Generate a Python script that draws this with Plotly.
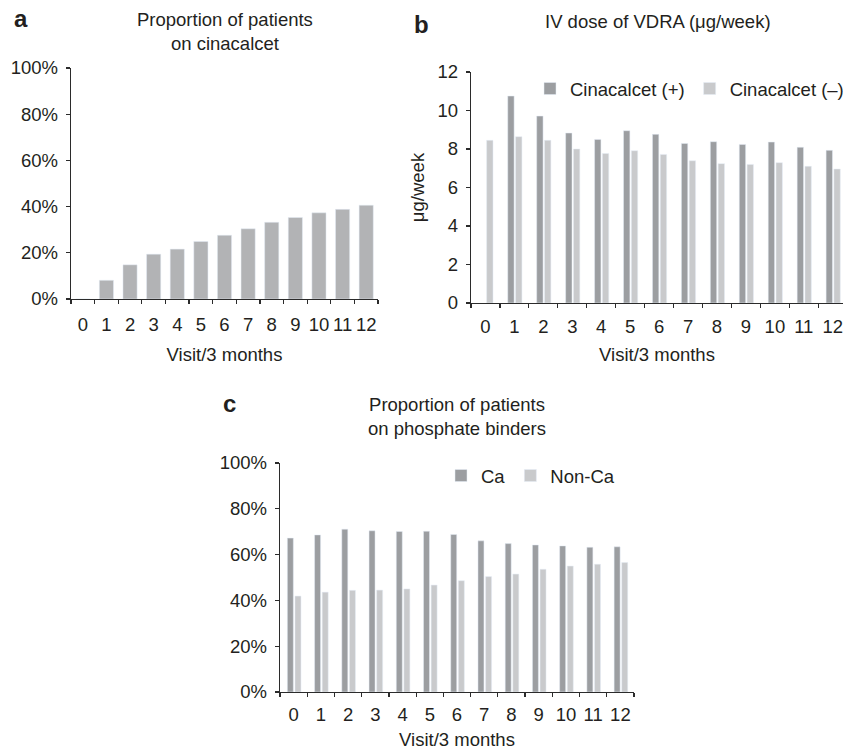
import plotly.graph_objects as go

visits = [str(i) for i in range(13)]

# Panel a: proportion of patients on cinacalcet (%)
cinacalcet_pct = [0, 8.1, 14.8, 19.4, 21.6, 24.9, 27.6, 30.4, 33.2, 35.3, 37.3, 38.8, 40.6]

# Panel b: IV dose of VDRA (ug/week)
vdra_cin_pos = [None, 10.75, 9.71, 8.83, 8.50, 8.95, 8.76, 8.29, 8.38, 8.24, 8.36, 8.09, 7.93]
vdra_cin_neg = [8.45, 8.64, 8.45, 8.00, 7.77, 7.91, 7.72, 7.39, 7.24, 7.20, 7.29, 7.10, 6.96]

# Panel c: proportion on phosphate binders (%)
binder_ca = [67.2, 68.6, 71.1, 70.4, 70.1, 70.2, 68.8, 66.0, 64.8, 64.2, 63.8, 63.2, 63.4]
binder_nonca = [41.9, 43.6, 44.4, 44.5, 45.0, 46.7, 48.6, 50.4, 51.5, 53.6, 55.0, 55.8, 56.5]

W, H = 843, 750
FONT = "Liberation Sans, Arial, Helvetica, sans-serif"
TXT = "#231f20"
AX = "#2b2b2b"
C_A = "#b2b3b5"
C_DARK = "#9c9ea1"
C_LIGHT = "#c9cacc"
FS = 18.5

def px_x(p):
    return p / W

def px_y(p):
    return 1 - p / H

fig = go.Figure()

fig.add_trace(go.Bar(x=visits, y=cinacalcet_pct, marker_color=C_A, width=0.6,
                     xaxis="x", yaxis="y", showlegend=False))

fig.add_trace(go.Bar(x=visits, y=vdra_cin_pos, marker_color=C_DARK, width=0.22, offset=-0.23,
                     name="Cinacalcet (+)", xaxis="x2", yaxis="y2", legend="legend"))
fig.add_trace(go.Bar(x=visits, y=vdra_cin_neg, marker_color=C_LIGHT, width=0.22, offset=0.04,
                     name="Cinacalcet (–)", xaxis="x2", yaxis="y2", legend="legend"))

fig.add_trace(go.Bar(x=visits, y=binder_ca, marker_color=C_DARK, width=0.22, offset=-0.23,
                     name="Ca", xaxis="x3", yaxis="y3", legend="legend2"))
fig.add_trace(go.Bar(x=visits, y=binder_nonca, marker_color=C_LIGHT, width=0.22, offset=0.05,
                     name="Non-Ca", xaxis="x3", yaxis="y3", legend="legend2"))

def xaxis(domain, anchor, rng, lab_off, title_off):
    return dict(domain=domain, anchor=anchor, type="category", range=rng,
                showline=True, linecolor=AX, linewidth=1.3, ticks="outside", ticklen=4,
                tickcolor=AX, tickwidth=1.2, tickson="boundaries", showgrid=False, zeroline=False,
                tickangle=0, tickfont=dict(size=FS, color=TXT), ticklabelstandoff=lab_off,
                title=dict(text="Visit/3 months", font=dict(size=FS, color=TXT), standoff=title_off),
                automargin=False, fixedrange=True)

def yaxis(domain, anchor, rng, dtick, suffix="", title=None):
    d = dict(domain=domain, anchor=anchor, range=rng, dtick=dtick, ticksuffix=suffix,
             showline=True, linecolor=AX, linewidth=1.3, ticks="outside", ticklen=4,
             tickcolor=AX, tickwidth=1.2, showgrid=False, zeroline=False,
             tickfont=dict(size=FS, color=TXT), ticklabelstandoff=4,
             automargin=False, fixedrange=True)
    if title:
        d["title"] = dict(text=title, font=dict(size=FS, color=TXT), standoff=8)
    return d

fig.update_layout(
    width=W, height=H, autosize=False,
    margin=dict(l=0, r=0, t=0, b=0, autoexpand=False),
    paper_bgcolor="white", plot_bgcolor="white",
    font=dict(family=FONT, size=FS, color=TXT),
    barmode="group",
    xaxis=xaxis([px_x(71), px_x(378)], "y", [-0.5, 12.5], 8, 14),
    yaxis=yaxis([px_y(299), px_y(68)], "x", [0, 100], 20, "%"),
    xaxis2=xaxis([px_x(471), 1.0], "y2", [-0.5, 12.354], 6, 12),
    yaxis2=yaxis([px_y(303), px_y(72)], "x2", [0, 12], 2, "", "μg/week"),
    xaxis3=xaxis([px_x(280), px_x(634)], "y3", [-0.5, 12.5], 5, 10),
    yaxis3=yaxis([px_y(692), px_y(463)], "x3", [0, 100], 20, "%"),
    legend=dict(orientation="h", x=px_x(530), xanchor="left", y=px_y(89), yanchor="middle",
                font=dict(size=FS, color=TXT), bgcolor="rgba(0,0,0,0)", borderwidth=0,
                itemwidth=30, tracegroupgap=0),
    legend2=dict(orientation="h", x=px_x(441), xanchor="left", y=px_y(476), yanchor="middle",
                 font=dict(size=FS, color=TXT), bgcolor="rgba(0,0,0,0)", borderwidth=0,
                 itemwidth=30, tracegroupgap=0),
    showlegend=True,
)

annotations = [
    dict(text="<b>a</b>", x=px_x(12), y=px_y(19), xanchor="left", yanchor="middle", font=dict(size=24)),
    dict(text="<b>b</b>", x=px_x(412), y=px_y(25), xanchor="left", yanchor="middle", font=dict(size=24)),
    dict(text="<b>c</b>", x=px_x(221), y=px_y(404), xanchor="left", yanchor="middle", font=dict(size=24)),
    dict(text="Proportion of patients<br>on cinacalcet", x=px_x(225), y=px_y(32),
         xanchor="center", yanchor="middle", font=dict(size=FS)),
    dict(text="IV dose of VDRA (μg/week)", x=px_x(658), y=px_y(22),
         xanchor="center", yanchor="middle", font=dict(size=FS)),
    dict(text="Proportion of patients<br>on phosphate binders", x=px_x(457), y=px_y(416),
         xanchor="center", yanchor="middle", font=dict(size=FS)),
]
for a in annotations:
    a.update(xref="paper", yref="paper", showarrow=False)
    a["font"].update(color=TXT, family=FONT)
fig.update_layout(annotations=annotations)

fig.write_html("out.html", config={"displayModeBar": False, "staticPlot": True},
               post_script="document.body.style.margin='0px';document.documentElement.style.overflow='hidden';")
